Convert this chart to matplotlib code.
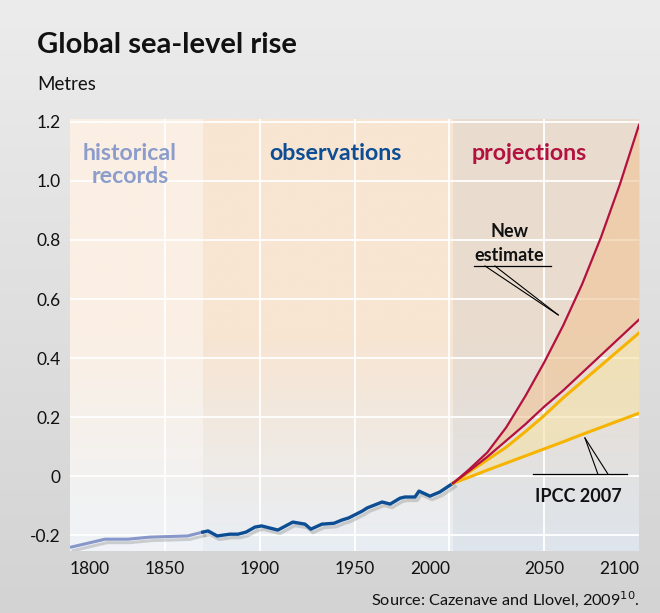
import numpy as np
import matplotlib
matplotlib.use("Agg")
import matplotlib.pyplot as plt
import matplotlib.patheffects as pe
import matplotlib.transforms as mtransforms
from matplotlib.colors import LinearSegmentedColormap

plt.rcParams['font.family'] = ['Lato', 'DejaVu Sans']

# ---------------- data ----------------
hist_years = [1800.5, 1818.5, 1830.6, 1842, 1862, 1870]
hist_vals = [-0.241, -0.214, -0.214, -0.207, -0.203, -0.19]

obs_years = [1870, 1872.8, 1877.6, 1884.3, 1888.6, 1892.8, 1897.5, 1901, 1909.6,
             1917.5, 1923.9, 1927, 1932.8, 1939.2, 1943.4, 1946.9, 1954, 1956.7,
             1964.6, 1968.8, 1974, 1976.6, 1981.9, 1984, 1989.8, 1995, 2002]
obs_vals = [-0.19, -0.186, -0.203, -0.197, -0.197, -0.19, -0.173, -0.169, -0.183,
            -0.156, -0.163, -0.18, -0.163, -0.16, -0.149, -0.142, -0.119, -0.108,
            -0.088, -0.095, -0.075, -0.071, -0.071, -0.051, -0.068, -0.054, -0.024]

proj_years = [2002, 2010, 2020, 2030, 2040, 2050, 2060, 2070, 2080, 2090, 2100]
new_high = [-0.024, 0.02, 0.08, 0.165, 0.27, 0.385, 0.51, 0.65, 0.81, 0.99, 1.19]
new_low = [-0.024, 0.015, 0.065, 0.12, 0.175, 0.235, 0.29, 0.35, 0.41, 0.47, 0.53]
ipcc_high = [-0.024, 0.012, 0.055, 0.098, 0.15, 0.205, 0.265, 0.32, 0.375, 0.43, 0.485]
ipcc_low = [-0.024, -0.005, 0.02, 0.044, 0.068, 0.092, 0.116, 0.141, 0.165, 0.189, 0.213]

x_ticks = [1800, 1850, 1900, 1950, 2000, 2050, 2100]
y_ticks = [-0.2, 0, 0.2, 0.4, 0.6, 0.8, 1.0, 1.2]
y_labels = ['-0.2', '0', '0.2', '0.4', '0.6', '0.8', '1.0', '1.2']

periods = [(1800, 1870), (1870, 2002), (2002, 2100)]
period_names = ['historical\nrecords', 'observations', 'projections']

# ---------------- figure ----------------
W, H = 660, 613
fig = plt.figure(figsize=(W / 100, H / 100), dpi=100)

bg = fig.add_axes([0, 0, 1, 1], zorder=-10)
bg.axis('off')
grad = np.linspace(0, 1, 256).reshape(-1, 1)
bg_cmap = LinearSegmentedColormap.from_list('bg', ['#ececec', '#d3d3d3'])
bg.imshow(grad, aspect='auto', cmap=bg_cmap, extent=[0, 1, 0, 1], origin='upper')
bg.set_xlim(0, 1)
bg.set_ylim(0, 1)

ax = fig.add_axes([70 / W, (H - 551) / H, (639 - 70) / W, (551 - 119) / H])
ymin, ymax = -0.254, 1.21
ax.set_xlim(1800, 2100)
ax.set_ylim(ymin, ymax)
for s in ax.spines.values():
    s.set_visible(False)

band_colors = [('#fbefe4', '#eff3f7'), ('#f8e5d2', '#e8eef4'), ('#e9dccf', '#dee5ec')]
for (x0, x1), (ctop, cbot) in zip(periods, band_colors):
    cm = LinearSegmentedColormap.from_list('b', [ctop, ctop, cbot])
    ax.imshow(grad, aspect='auto', cmap=cm, extent=[x0, x1, ymin, ymax],
              origin='upper', zorder=0)

for yv in y_ticks:
    ax.axhline(yv, color='white', lw=1.3, zorder=1)
for xv in x_ticks[1:-1]:
    ax.axvline(xv, color='white', lw=1.3, zorder=1)

ax.fill_between(proj_years, new_low, new_high, color='#f0c495', alpha=0.6, lw=0, zorder=2)
ax.fill_between(proj_years, ipcc_low, ipcc_high, color='#f5e3a8', alpha=0.6, lw=0, zorder=2)

shadow = [pe.SimpleLineShadow(offset=(1.5, -2.5), shadow_color='#777777', alpha=0.3), pe.Normal()]
ax.plot(hist_years, hist_vals, color='#8797c9', lw=2.2, zorder=3, path_effects=shadow,
        solid_capstyle='round')
ax.plot(obs_years, obs_vals, color='#0c4d94', lw=2.4, zorder=3, path_effects=shadow,
        solid_joinstyle='round')
ax.plot(proj_years, ipcc_low, color='#f6b400', lw=2.2, zorder=4)
ax.plot(proj_years, ipcc_high, color='#f6b400', lw=2.2, zorder=4)
ax.plot(proj_years, new_low, color='#b3113f', lw=1.6, zorder=5)
ax.plot(proj_years, new_high, color='#b3113f', lw=1.6, zorder=5)

ax.set_yticks(y_ticks)
ax.set_yticklabels(y_labels, fontsize=12.5, color='#111111')
ax.set_xticks(x_ticks)
ax.set_xticklabels([str(v) for v in x_ticks], fontsize=12.5, color='#111111')
ax.tick_params(length=0, pad=7)
xl = ax.get_xticklabels()
xl[0].set_ha('left')
xl[-1].set_ha('right')
shift = mtransforms.ScaledTranslation(-19 / 100, 0, fig.dpi_scale_trans)
xl[4].set_transform(xl[4].get_transform() + shift)

ax.text(1831.6, 1.13, period_names[0], ha='center', va='top', fontsize=16.7,
        fontweight='bold', color='#8c9dcb', linespacing=1.15)
ax.text(1940.2, 1.13, period_names[1], ha='center', va='top', fontsize=16.7,
        fontweight='bold', color='#0c4d94')
ax.text(2042, 1.13, period_names[2], ha='center', va='top', fontsize=16.7,
        fontweight='bold', color='#b3113f')

ax.text(2032, 0.81, 'New', ha='center', va='baseline', fontsize=13,
        fontweight='bold', color='#111111')
ax.text(2031.5, 0.729, 'estimate', ha='center', va='baseline', fontsize=13,
        fontweight='bold', color='#111111')
ax.plot([2013, 2053.6], [0.712, 0.712], color='black', lw=0.9, zorder=6)
ax.plot([2018.8, 2057.4], [0.712, 0.546], color='black', lw=0.8, zorder=6)
ax.plot([2024, 2057.4], [0.712, 0.546], color='black', lw=0.8, zorder=6)

ax.plot([2044, 2093.6], [0.007, 0.007], color='black', lw=0.9, zorder=6)
ax.plot([2078.3, 2071.5], [0.007, 0.129], color='black', lw=0.8, zorder=6)
ax.plot([2083.6, 2071.5], [0.007, 0.129], color='black', lw=0.8, zorder=6)
ax.text(2067.8, -0.088, 'IPCC 2007', ha='center', va='baseline', fontsize=13,
        fontweight='bold', color='#111111')

fig.text(37 / W, 1 - 45 / H, 'Global sea-level rise', fontsize=21, fontweight='bold',
         color='#111111', va='center', ha='left')
fig.text(37 / W, 1 - 84 / H, 'Metres', fontsize=13.5, color='#111111', va='center', ha='left')
fig.text(640 / W, 1 - 599 / H, 'Source: Cazenave and Llovel, 2009$^{10}$.', fontsize=11.7,
         color='#111111', va='center', ha='right')

fig.savefig('out.png', dpi=100)
